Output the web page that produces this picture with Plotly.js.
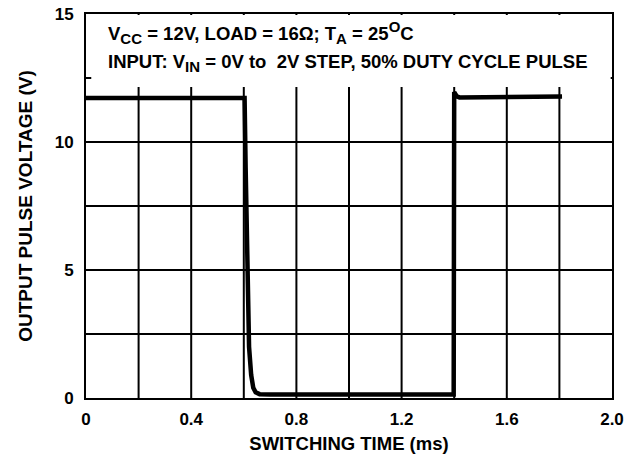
<!DOCTYPE html>
<html><head><meta charset="utf-8">
<script src="https://cdn.plot.ly/plotly-3.0.1.min.js"></script>
<style>body{margin:0;background:#fff}#c{width:629px;height:459px}</style>
</head><body><div id="c"></div>
<script>
const timeMs = [0, 0.300, 0.603, 0.607, 0.612, 0.620, 0.628, 0.636, 0.645, 0.660, 0.700, 1.000, 1.300, 1.398, 1.400, 1.403, 1.410, 1.420, 1.500, 1.700, 1.810];
const voltsV = [11.72, 11.72, 11.72, 9.0, 5.0, 2.0, 0.9, 0.4, 0.22, 0.15, 0.14, 0.14, 0.14, 0.14, 11.95, 11.9, 11.78, 11.74, 11.74, 11.76, 11.78];
const xTickVals = [0, 0.4, 0.8, 1.2, 1.6, 2.0];
const xTickText = ['0', '0.4', '0.8', '1.2', '1.6', '2.0'];
const yTickVals = [0, 5, 10, 15];
const yTickText = ['0', '5', '10', '15'];
const gridX = [0.2, 0.4, 0.6, 0.8, 1.0, 1.2, 1.4, 1.6, 1.8];
const gridY = [2.5, 5, 7.5, 10, 12.5];
const sub = s => '<sub><span style="font-size:15px">' + s + '</span></sub>';
const sup = s => '<sup><span style="font-size:15px">' + s + '</span></sup>';
const noteLine1 = 'V' + sub('CC') + ' = 12V, LOAD = 16Ω; T' + sub('A') + ' = 25' + sup('O') + 'C';
const noteLine2 = 'INPUT: V' + sub('IN') + ' = 0V to  2V STEP, 50% DUTY CYCLE PULSE';

const font = 'Liberation Sans, Arial, sans-serif';
const shapes = [];
gridX.forEach(v => shapes.push({type:'line', xref:'x', yref:'y', x0:v, x1:v, y0:0, y1:15, layer:'below', line:{color:'#000', width:2}}));
gridY.forEach(v => shapes.push({type:'line', xref:'x', yref:'y', x0:0, x1:2, y0:v, y1:v, layer:'below', line:{color:'#000', width:2}}));
shapes.push({type:'rect', xref:'x', yref:'y', x0:0.02, x1:1.995, y0:12.15, y1:14.96, layer:'between', fillcolor:'#fff', line:{width:0}});

const data = [{x: timeMs, y: voltsV, type:'scatter', mode:'lines', line:{color:'#000', width:4.5}, hoverinfo:'skip'}];

const layout = {
  width:629, height:459,
  margin:{l:86, r:17, t:14, b:61},
  paper_bgcolor:'#fff', plot_bgcolor:'#fff',
  showlegend:false,
  font:{family:font, color:'#000'},
  xaxis:{range:[0,2], tickvals:xTickVals, ticktext:xTickText, showgrid:false, zeroline:false,
    showline:true, mirror:true, linecolor:'#000', linewidth:2, ticks:'outside', ticklen:5, tickcolor:'rgba(0,0,0,0)',
    tickfont:{family:font, size:17, weight:'bold'},
    title:{text:'SWITCHING TIME (ms)', font:{family:font, size:18.5, weight:'bold'}, standoff:9}},
  yaxis:{range:[0,15], tickvals:yTickVals, ticktext:yTickText, showgrid:false, zeroline:false,
    showline:true, mirror:true, linecolor:'#000', linewidth:2, ticks:'outside', ticklen:7, tickcolor:'rgba(0,0,0,0)',
    tickfont:{family:font, size:17, weight:'bold'},
    title:{text:'OUTPUT PULSE VOLTAGE (V)', font:{family:font, size:19, weight:'bold'}, standoff:17}},
  shapes: shapes,
  annotations:[
    {xref:'x', yref:'y', x:0.075, y:14.27, xanchor:'left', yanchor:'middle', showarrow:false,
     text:noteLine1, font:{family:font, size:18.5, weight:'bold'}},
    {xref:'x', yref:'y', x:0.075, y:13.1, xanchor:'left', yanchor:'middle', showarrow:false,
     text:noteLine2, font:{family:font, size:18.5, weight:'bold'}}
  ]
};
Plotly.newPlot('c', data, layout, {staticPlot:true, displayModeBar:false});
</script></body></html>
